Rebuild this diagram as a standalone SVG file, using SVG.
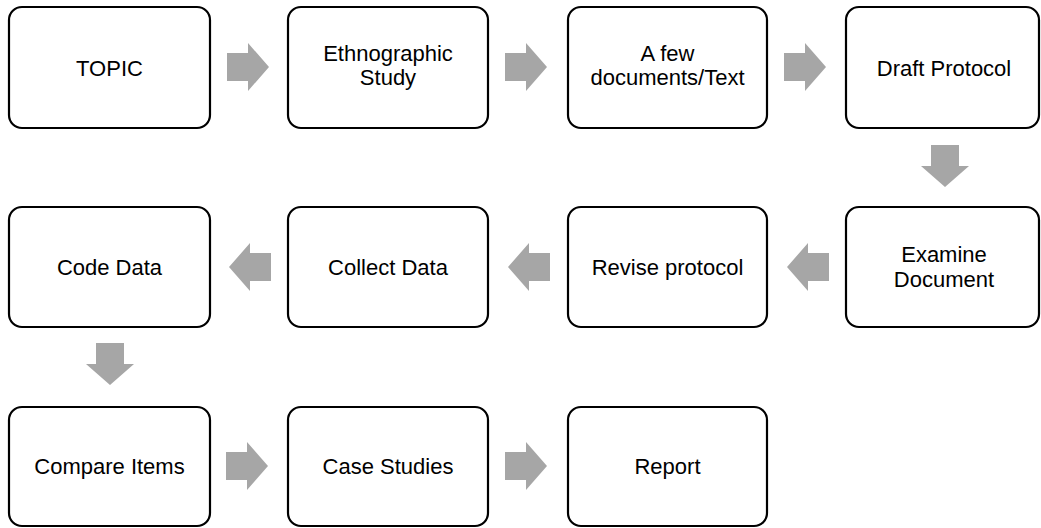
<svg xmlns="http://www.w3.org/2000/svg" xmlns:xlink="http://www.w3.org/1999/xlink" width="1041" height="528" viewBox="0 0 1041 528">
<style>
.box{fill:#fff;stroke:#000;stroke-width:2.2}
.lbl{font-family:"Liberation Sans",Arial,sans-serif;font-size:22px;fill:#000;text-anchor:middle}
.arr{fill:#a6a6a6}
</style>
<defs>
<path id="ar" d="M0,-14 L21,-14 L21,-24 L42,0 L21,24 L21,14 L0,14 Z"/>
</defs>
<rect width="1041" height="528" fill="#fff"/>
<g id="connectors" class="arr">
<use xlink:href="#ar" href="#ar" transform="translate(227,67)"/>
<use xlink:href="#ar" href="#ar" transform="translate(505,67)"/>
<use xlink:href="#ar" href="#ar" transform="translate(784,67)"/>
<use xlink:href="#ar" href="#ar" transform="translate(945,145) rotate(90)"/>
<use xlink:href="#ar" href="#ar" transform="translate(829,267) rotate(180)"/>
<use xlink:href="#ar" href="#ar" transform="translate(550,267) rotate(180)"/>
<use xlink:href="#ar" href="#ar" transform="translate(271,267) rotate(180)"/>
<use xlink:href="#ar" href="#ar" transform="translate(110,343) rotate(90)"/>
<use xlink:href="#ar" href="#ar" transform="translate(226,466)"/>
<use xlink:href="#ar" href="#ar" transform="translate(505,466)"/>
</g>
<g id="n-topic"><rect class="box" x="9" y="7" width="201" height="121" rx="13"/><text class="lbl" x="109.5" y="75.5">TOPIC</text></g>
<g id="n-ethno"><rect class="box" x="288" y="7" width="200" height="121" rx="13"/><text class="lbl" x="388" y="61">Ethnographic</text><text class="lbl" x="388" y="85">Study</text></g>
<g id="n-docs"><rect class="box" x="568" y="7" width="199" height="121" rx="13"/><text class="lbl" x="667.5" y="61">A few</text><text class="lbl" x="667.5" y="85">documents/Text</text></g>
<g id="n-draft"><rect class="box" x="846" y="7" width="193" height="121" rx="13"/><text class="lbl" x="944" y="75.5">Draft Protocol</text></g>
<g id="n-examine"><rect class="box" x="846" y="207" width="193" height="120" rx="13"/><text class="lbl" x="944" y="262">Examine</text><text class="lbl" x="944" y="287">Document</text></g>
<g id="n-revise"><rect class="box" x="568" y="207" width="199" height="120" rx="13"/><text class="lbl" x="667.5" y="274.5">Revise protocol</text></g>
<g id="n-collect"><rect class="box" x="288" y="207" width="200" height="120" rx="13"/><text class="lbl" x="388" y="274.5">Collect Data</text></g>
<g id="n-code"><rect class="box" x="9" y="207" width="201" height="120" rx="13"/><text class="lbl" x="109.5" y="274.5">Code Data</text></g>
<g id="n-compare"><rect class="box" x="9" y="407" width="201" height="119" rx="13"/><text class="lbl" x="109.5" y="474">Compare Items</text></g>
<g id="n-case"><rect class="box" x="288" y="407" width="200" height="119" rx="13"/><text class="lbl" x="388" y="474">Case Studies</text></g>
<g id="n-report"><rect class="box" x="568" y="407" width="199" height="119" rx="13"/><text class="lbl" x="667.5" y="474">Report</text></g>
</svg>
